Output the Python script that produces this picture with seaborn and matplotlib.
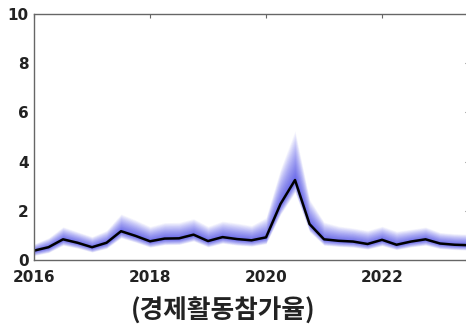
import numpy as np
import pandas as pd
import matplotlib
matplotlib.use("Agg")
import matplotlib.pyplot as plt
import seaborn as sns

# Quarterly time points
quarters = [2016.0, 2016.25, 2016.5, 2016.75, 2017.0, 2017.25, 2017.5, 2017.75,
            2018.0, 2018.25, 2018.5, 2018.75, 2019.0, 2019.25, 2019.5, 2019.75,
            2020.0, 2020.25, 2020.5, 2020.75, 2021.0, 2021.25, 2021.5, 2021.75,
            2022.0, 2022.25, 2022.5, 2022.75, 2023.0, 2023.25, 2023.5]
# Central line
median = [0.38, 0.52, 0.84, 0.70, 0.52, 0.70, 1.17, 0.98,
          0.76, 0.87, 0.88, 1.03, 0.77, 0.93, 0.85, 0.80,
          0.92, 2.28, 3.25, 1.46, 0.84, 0.78, 0.75, 0.65,
          0.82, 0.62, 0.75, 0.84, 0.67, 0.62, 0.60]
# Outer fan bounds
upper = [0.65, 0.90, 1.35, 1.15, 0.95, 1.20, 1.87, 1.63,
         1.36, 1.52, 1.53, 1.68, 1.37, 1.58, 1.50, 1.40,
         1.72, 3.70, 5.25, 2.46, 1.54, 1.38, 1.30, 1.20,
         1.37, 1.17, 1.25, 1.34, 1.12, 1.07, 1.05]
lower = [0.18, 0.30, 0.60, 0.48, 0.32, 0.47, 0.90, 0.72,
         0.52, 0.62, 0.63, 0.77, 0.53, 0.68, 0.60, 0.56,
         0.66, 1.85, 2.75, 1.15, 0.60, 0.55, 0.52, 0.44,
         0.58, 0.42, 0.53, 0.60, 0.46, 0.42, 0.40]

yticks = [0, 2, 4, 6, 8, 10]
xticks = [2016, 2018, 2020, 2022]
title = "(경제활동참가율)"

df = pd.DataFrame({"t": quarters, "m": median, "u": upper, "l": lower})

sns.set_style("white")
plt.rcParams["font.family"] = ["DejaVu Sans"]

fig = plt.figure(figsize=(4.66, 3.26), dpi=100)
ax = fig.add_axes([0.073, 0.2025, 0.9335, 0.7546])

N = 28
m = df["m"].to_numpy()
u = df["u"].to_numpy()
l = df["l"].to_numpy()
for k in range(N, 0, -1):
    f = (k / N) ** 1.4
    ax.fill_between(df["t"], m - (m - l) * f, m + (u - m) * f,
                    color=(0.25, 0.25, 0.92), alpha=0.05, linewidth=0)

sns.lineplot(data=df, x="t", y="m", ax=ax, color="black", linewidth=1.8)

ax.set_xlim(2016, 2023.5)
ax.set_ylim(0, 10)
ax.set_xticks(xticks)
ax.set_yticks(yticks)
ax.set_xticklabels([str(x) for x in xticks], fontsize=11, fontweight="bold", color="#222222")
ax.set_yticklabels([str(y) for y in yticks], fontsize=11, fontweight="bold", color="#222222")
ax.set_xlabel("")
ax.set_ylabel("")
ax.tick_params(direction="in", length=3, width=0.8, color="#666666",
               top=True, right=True)
ax.tick_params(axis="x", pad=7)
ax.tick_params(axis="y", pad=4)
for s in ax.spines.values():
    s.set_visible(True)
    s.set_color("#666666")
    s.set_linewidth(1.0)

fig.text(0.48, 0.046, title, ha="center", va="center", fontsize=18.5,
         fontweight="bold", family=["Noto Sans CJK KR", "DejaVu Sans"], color="#222222")

fig.savefig("out.png", dpi=100)
